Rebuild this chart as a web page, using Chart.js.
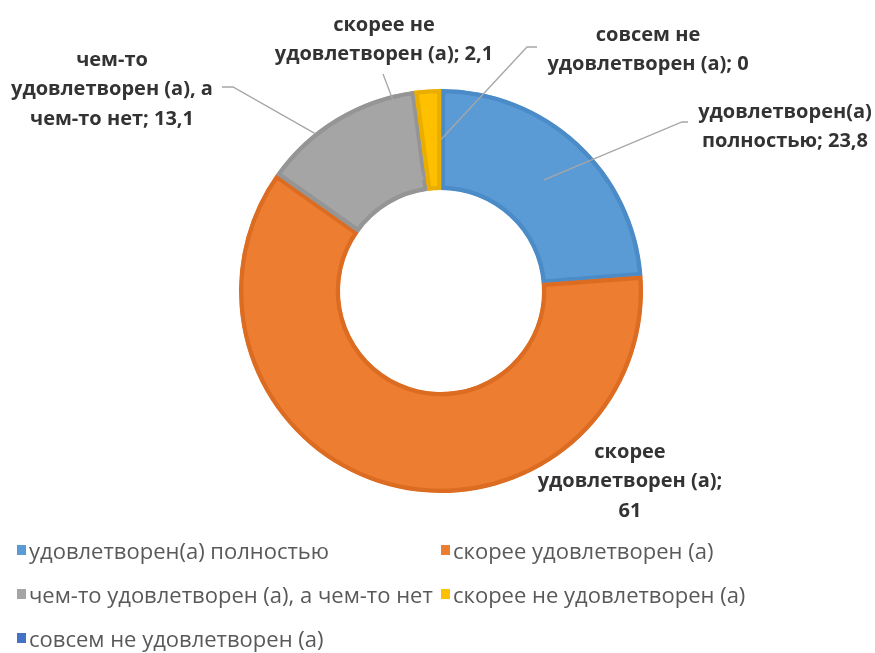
<!DOCTYPE html>
<html lang="ru">
<head>
<meta charset="utf-8">
<script src="https://cdn.jsdelivr.net/npm/chart.js@4/dist/chart.umd.min.js"></script>
<style>
  html, body { margin: 0; padding: 0; background: #fff; }
  #wrap { position: relative; width: 875px; height: 653px; overflow: hidden; }
  #chart { position: absolute; left: 0; top: 0; }
  #legend {
    position: absolute; left: 17px; top: 528px;
    display: grid; grid-template-columns: 424px auto; grid-auto-rows: 44px;
    font-family: "Open Sans", sans-serif;
    font-size: 22px; color: #595959;
  }
  .item { display: flex; align-items: center; white-space: nowrap; }
  .box { width: 9px; height: 10px; margin-right: 3px; }
</style>
</head>
<body>
<div id="wrap">
  <canvas id="chart" width="875" height="653"></canvas>
  <div id="legend"></div>
</div>
<script>
// категории и значения (%)
const categories = [
  'удовлетворен(а) полностью',
  'скорее удовлетворен (а)',
  'чем-то удовлетворен (а), а чем-то нет',
  'скорее не удовлетворен (а)',
  'совсем не удовлетворен (а)',
];
const values = [23.8, 61, 13.1, 2.1, 0];

const fillColors   = ['#5B9BD5', '#ED7D31', '#A5A5A5', '#FFC000', '#4472C4'];
const borderColors = ['#4B8BC8', '#DC6C22', '#959595', '#EAAE00', '#3A63AE'];

const fmt = v => String(v).replace('.', ',');

// подписи данных, разбитые на строки как в оригинале
const labelLines = [
  ['удовлетворен(а)', `полностью; ${fmt(values[0])}`],
  ['скорее', 'удовлетворен (а);', fmt(values[1])],
  ['чем-то', 'удовлетворен (а), а', `чем-то нет; ${fmt(values[2])}`],
  ['скорее не', `удовлетворен (а); ${fmt(values[3])}`],
  ['совсем не', `удовлетворен (а); ${fmt(values[4])}`],
];

// где стоит текст и куда тянется выноска (t — доля угла сектора, r — доля толщины кольца)
const labelLayout = [
  { x: 785, y: 112, line: [[688, 122], [682, 122]], t: 0.5,  r: 0.5 },
  { x: 630, y: 452, line: null },
  { x: 112, y: 60,  line: [[222, 87], [233, 87]],  t: 0.34, r: 1.0 },
  { x: 384, y: 25,  line: [[383, 74]],             t: -0.2, r: 0.12 },
  { x: 648, y: 35,  line: [[537, 47], [527, 47]],  t: 0,    r: 0.5 },
];

const dataLabels = {
  id: 'dataLabels',
  afterDatasetsDraw(chart) {
    const ctx = chart.ctx;
    const meta = chart.getDatasetMeta(0);
    ctx.save();
    labelLayout.forEach((l, i) => {
      const arc = meta.data[i];
      if (l.line) {
        const p = arc.getProps(['x', 'y', 'startAngle', 'endAngle', 'innerRadius', 'outerRadius']);
        const a = p.startAngle + l.t * (p.endAngle - p.startAngle);
        const rad = p.innerRadius + l.r * (p.outerRadius - p.innerRadius);
        ctx.beginPath();
        ctx.strokeStyle = '#A6A6A6';
        ctx.lineWidth = 1.3;
        ctx.moveTo(l.line[0][0], l.line[0][1]);
        l.line.slice(1).forEach(pt => ctx.lineTo(pt[0], pt[1]));
        ctx.lineTo(p.x + Math.cos(a) * rad, p.y + Math.sin(a) * rad);
        ctx.stroke();
      }
      ctx.fillStyle = '#333';
      ctx.font = 'bold 20px "Open Sans", Roboto, sans-serif';
      ctx.textAlign = 'center';
      ctx.textBaseline = 'middle';
      labelLines[i].forEach((s, k) => ctx.fillText(s, l.x, l.y + k * 29.5));
    });
    ctx.restore();
  },
};

new Chart(document.getElementById('chart'), {
  type: 'doughnut',
  data: {
    labels: categories,
    datasets: [{
      data: values,
      backgroundColor: fillColors,
      borderColor: borderColors,
      borderWidth: 4,
      borderAlign: 'inner',
      hoverOffset: 0,
    }],
  },
  options: {
    responsive: false,
    animation: false,
    cutout: '50%',
    layout: { padding: { left: 239, right: 232, top: 89, bottom: 160 } },
    plugins: {
      legend: { display: false },
      tooltip: { enabled: false },
    },
  },
  plugins: [dataLabels],
});

const legend = document.getElementById('legend');
categories.forEach((c, i) => {
  const el = document.createElement('div');
  el.className = 'item';
  el.innerHTML = `<span class="box" style="background:${fillColors[i]}"></span>${c}`;
  legend.appendChild(el);
});
</script>
</body>
</html>
